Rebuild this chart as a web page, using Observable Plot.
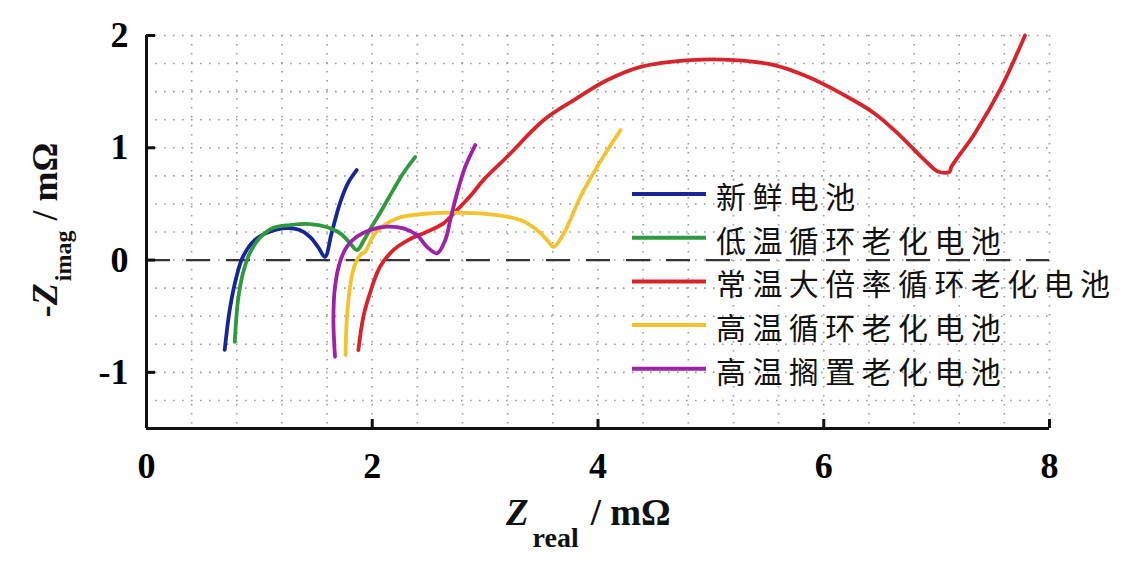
<!DOCTYPE html>
<html><head><meta charset="utf-8">
<script src="https://cdn.jsdelivr.net/npm/d3@7"></script>
<script src="https://cdn.jsdelivr.net/npm/@observablehq/plot@0.6"></script>
<style>body{margin:0;background:#fff}#chart svg{display:block}</style>
</head><body><div id="chart"></div>
<script>
// ---- data ----
const seriesNames = ["新鲜电池", "低温循环老化电池", "常温大倍率循环老化电池", "高温循环老化电池", "高温搁置老化电池"];
const seriesColors = ["#16259a", "#2e9a3c", "#d8232a", "#f3c22e", "#9c22a8"];

const fresh = [[0.693,-0.80],[0.737,-0.445],[0.797,-0.149],[0.853,0.027],[0.959,0.178],[1.092,0.252],[1.241,0.285],[1.359,0.267],[1.448,0.207],[1.519,0.118],[1.581,0.029],[1.640,0.240],[1.714,0.508],[1.785,0.686],[1.862,0.801]];
const lowTemp = [[0.782,-0.728],[0.811,-0.356],[0.855,-0.116],[0.915,0.062],[1.003,0.196],[1.119,0.285],[1.270,0.312],[1.448,0.321],[1.596,0.294],[1.714,0.240],[1.803,0.151],[1.865,0.089],[1.927,0.178],[1.998,0.303],[2.069,0.419],[2.185,0.623],[2.282,0.784],[2.380,0.917]];
const roomHighRate = [[1.877,-0.801],[1.921,-0.505],[1.980,-0.294],[2.069,-0.060],[2.187,0.089],[2.318,0.178],[2.484,0.252],[2.631,0.327],[2.750,0.445],[2.869,0.570],[2.984,0.712],[3.195,0.920],[3.520,1.247],[3.787,1.425],[4.083,1.603],[4.378,1.721],[4.822,1.781],[5.207,1.781],[5.562,1.736],[5.858,1.632],[6.154,1.484],[6.450,1.306],[6.687,1.098],[6.894,0.890],[7.016,0.786],[7.114,0.786],[7.131,0.831],[7.338,1.128],[7.575,1.543],[7.783,2.0]];
const highTempCycle = [[1.763,-0.846],[1.774,-0.534],[1.794,-0.312],[1.821,-0.134],[1.856,-0.018],[1.901,0.053],[1.936,0.071],[1.980,0.160],[2.034,0.249],[2.217,0.371],[2.513,0.416],[2.809,0.421],[3.105,0.401],[3.313,0.356],[3.460,0.267],[3.549,0.178],[3.608,0.118],[3.697,0.238],[3.845,0.564],[3.993,0.831],[4.200,1.158]];
const highTempStore = [[1.670,-0.861],[1.656,-0.534],[1.670,-0.238],[1.714,-0.018],[1.774,0.118],[1.862,0.207],[1.980,0.267],[2.129,0.297],[2.277,0.282],[2.396,0.223],[2.485,0.118],[2.573,0.060],[2.647,0.178],[2.691,0.356],[2.751,0.594],[2.824,0.831],[2.913,1.024]];

const xTicks = [0, 2, 4, 6, 8];
const yTicks = [-1, 0, 1, 2];
const xGrid = d3.range(0, 8.001, 0.4);
const yGrid = d3.range(-1.5, 2.001, 0.25);

const allSeries = [fresh, lowTemp, roomHighRate, highTempCycle, highTempStore];
const data = [];
allSeries.forEach((pts, i) => pts.forEach(([x, y]) => data.push({series: seriesNames[i], x, y})));

const grid = {stroke: "#9a9a9a", strokeWidth: 1.6, strokeDasharray: "1.6,7.4"};
const ink = "#111";
const fmt = d => String(d);

const chart = Plot.plot({
  width: 1142, height: 564,
  marginLeft: 146, marginRight: 93, marginTop: 35, marginBottom: 136,
  x: {domain: [0, 8]},
  y: {domain: [-1.5, 2]},
  color: {domain: seriesNames, range: seriesColors},
  style: {fontFamily: "Liberation Serif", background: "#fff", overflow: "visible"},
  marks: [
    Plot.ruleX(xGrid, grid),
    Plot.ruleY(yGrid, grid),
    Plot.ruleY([0], {stroke: "#333", strokeWidth: 2.2, strokeDasharray: "24,16"}),
    Plot.line(data, {x: "x", y: "y", z: "series", stroke: "series", strokeWidth: 3.8, curve: "catmull-rom", strokeLinecap: "round", strokeLinejoin: "round"}),
    Plot.ruleX([0], {stroke: ink, strokeWidth: 3}),
    Plot.ruleY([-1.5], {stroke: ink, strokeWidth: 3}),
    Plot.ruleX(xTicks, {y1: -1.5, y2: -1.5, insetTop: -9, stroke: ink, strokeWidth: 3}),
    Plot.ruleY(yTicks, {x1: 0, x2: 0, insetRight: -9, stroke: ink, strokeWidth: 3}),
    Plot.axisX(xTicks, {tickSize: 0, tickPadding: 24, fontSize: 36, fontWeight: "bold", label: null, tickFormat: fmt}),
    Plot.axisY(yTicks, {tickSize: 0, tickPadding: 18, fontSize: 36, fontWeight: "bold", label: null, tickFormat: fmt})
  ]
});
document.getElementById("chart").append(chart);

const svg = d3.select(chart);

// x axis title
const xt = svg.append("text").attr("x", 506).attr("y", 525).attr("text-anchor", "start")
  .attr("font-family", "Liberation Serif").attr("font-weight", "bold").attr("font-size", 37).attr("fill", ink);
xt.append("tspan").attr("font-style", "italic").text("Z");
xt.append("tspan").attr("font-size", 28).attr("dy", 22).attr("dx", 4).text("real");
xt.append("tspan").attr("dy", -22).attr("dx", 12).text("/ mΩ");

// y axis title
const yt = svg.append("text").attr("transform", "translate(57,230) rotate(-90)")
  .attr("text-anchor", "middle")
  .attr("font-family", "Liberation Serif").attr("font-weight", "bold").attr("font-size", 36).attr("fill", ink);
yt.append("tspan").text("-");
yt.append("tspan").attr("font-style", "italic").text("Z");
yt.append("tspan").attr("font-size", 24).attr("dy", 14).attr("dx", 2).text("imag");
yt.append("tspan").attr("dy", -14).attr("dx", 10).text("/ mΩ");

// legend
const lg = svg.append("g");
seriesNames.forEach((name, i) => {
  const y = 194 + i * 43.7;
  lg.append("line").attr("x1", 632).attr("x2", 706).attr("y1", y).attr("y2", y)
    .attr("stroke", seriesColors[i]).attr("stroke-width", 4);
  lg.append("text").attr("x", 716).attr("y", y + 14).attr("text-anchor", "start")
    .attr("font-family", "Noto Sans CJK SC").attr("font-size", 30).attr("letter-spacing", 6.4).attr("fill", "#111")
    .text(name);
});
</script>
</body></html>
